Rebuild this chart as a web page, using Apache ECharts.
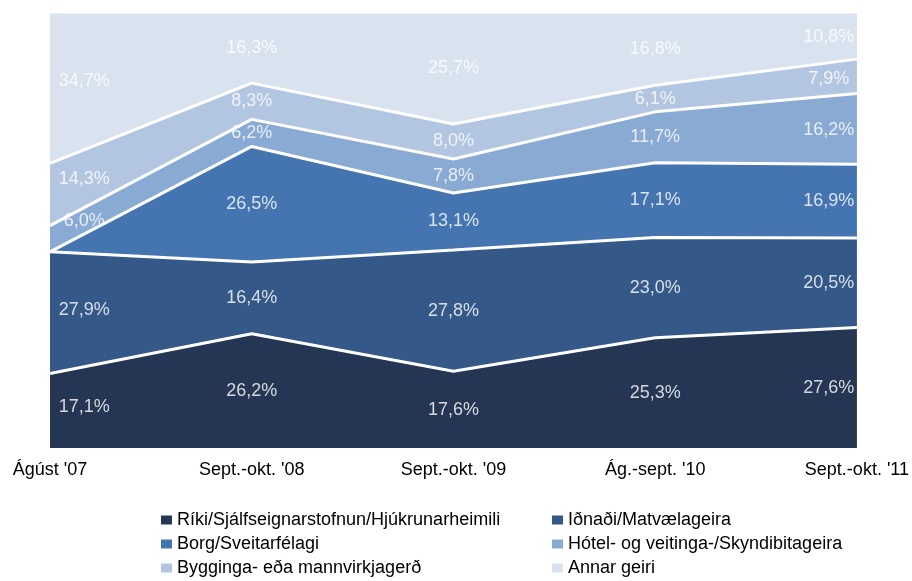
<!DOCTYPE html>
<html>
<head>
<meta charset="utf-8">
<script src="https://cdn.jsdelivr.net/npm/echarts@6/dist/echarts.min.js"></script>
<style>
  html, body { margin: 0; padding: 0; background: #fff; }
  #chart { width: 912px; height: 581px; }
</style>
</head>
<body>
<div id="chart"></div>
<script>
  const categories = ["Ágúst '07", "Sept.-okt. '08", "Sept.-okt. '09", "Ág.-sept. '10", "Sept.-okt. '11"];
  const seriesNames = [
    'Ríki/Sjálfseignarstofnun/Hjúkrunarheimili',
    'Iðnaði/Matvælageira',
    'Borg/Sveitarfélagi',
    'Hótel- og veitinga-/Skyndibitageira',
    'Bygginga- eða mannvirkjagerð',
    'Annar geiri'
  ];
  const riki     = [17.1, 26.2, 17.6, 25.3, 27.6];
  const idnadi   = [27.9, 16.4, 27.8, 23.0, 20.5];
  const borg     = [0,    26.5, 13.1, 17.1, 16.9];
  const hotel    = [6.0,  6.2,  7.8,  11.7, 16.2];
  const bygginga = [14.3, 8.3,  8.0,  6.1,  7.9];
  const annar    = [34.7, 16.3, 25.7, 16.8, 10.8];

  const colors = ['#243653', '#345887', '#4475b0', '#89aad2', '#b2c6e2', '#d8e3ef'];
  const font = "'Liberation Sans', Arial, sans-serif";

  const values = [riki, idnadi, borg, hotel, bygginga, annar];
  // 100% stacked: normalise each category
  const totals = categories.map((c, j) => values.reduce((s, arr) => s + arr[j], 0));
  const shares = values.map(arr => arr.map((v, j) => v / totals[j] * 100));

  // cumulative bottom of each band
  const bases = shares.map((arr, i) => arr.map((v, j) => {
    let s = 0;
    for (let k = 0; k < i; k++) s += shares[k][j];
    return s;
  }));

  function midAt(i, x) {
    const a = Math.floor(x), b = Math.min(Math.ceil(x), categories.length - 1);
    const t = x - a;
    const lo = bases[i][a] * (1 - t) + bases[i][b] * t;
    const hi = (bases[i][a] + shares[i][a]) * (1 - t) + (bases[i][b] + shares[i][b]) * t;
    return (lo + hi) / 2;
  }

  const fmt = v => v.toFixed(1).replace('.', ',') + '%';

  const series = [];
  shares.forEach((arr, i) => {
    series.push({
      name: seriesNames[i],
      type: 'line',
      stack: 'total',
      data: arr,
      symbol: 'none',
      z: 10 - i,
      itemStyle: { color: colors[i] },
      lineStyle: { color: '#fff', width: 3 },
      areaStyle: { color: colors[i], opacity: 1 }
    });
  });

  // value labels placed in the middle of each band
  const labelPoints = [];
  values.forEach((arr, i) => {
    arr.forEach((v, j) => {
      if (v <= 0) return;
      let x = j;
      if (j === 0) x = 0.17;
      if (j === categories.length - 1) x = j - 0.14;
      labelPoints.push([x, midAt(i, x), v]);
    });
  });
  series.push({
    type: 'scatter',
    xAxisIndex: 1,
    data: labelPoints,
    symbolSize: 1,
    silent: true,
    z: 20,
    itemStyle: { color: 'rgba(0,0,0,0)' },
    label: {
      show: true,
      position: 'inside',
      formatter: p => fmt(p.value[2]),
      color: '#fff',
      fontSize: 18,
      fontFamily: font
    }
  });

  const legendCommon = {
    orient: 'vertical',
    icon: 'rect',
    itemWidth: 11,
    itemHeight: 9,
    itemGap: 6,
    padding: 0,
    textStyle: { color: '#000', fontSize: 18, fontFamily: font, lineHeight: 18 }
  };

  const chart = echarts.init(document.getElementById('chart'));
  chart.setOption({
    animation: false,
    backgroundColor: '#fff',
    grid: { left: 50, right: 55, top: 12, bottom: 133 },
    xAxis: [{
      type: 'category',
      data: categories,
      boundaryGap: false,
      axisLine: { show: false },
      axisTick: { show: false },
      axisLabel: { color: '#000', fontSize: 18, fontFamily: font, margin: 13 }
    }, {
      type: 'value',
      min: 0,
      max: categories.length - 1,
      show: false
    }],
    yAxis: {
      type: 'value',
      min: 0,
      max: 100,
      show: false
    },
    legend: [
      Object.assign({ left: 161, top: 511, data: [seriesNames[0], seriesNames[2], seriesNames[4]] }, legendCommon),
      Object.assign({ left: 552, top: 511, data: [seriesNames[1], seriesNames[3], seriesNames[5]] }, legendCommon)
    ],
    series: series
  });
</script>
</body>
</html>
